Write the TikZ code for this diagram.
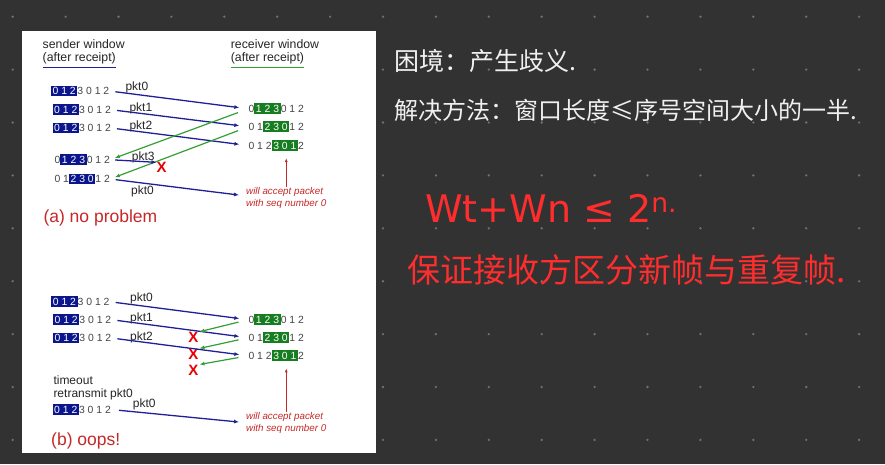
\documentclass[tikz,border=0pt]{standalone}
\usepackage{fontspec}
\setmainfont{Liberation Sans}
\newfontfamily\cjk{Noto Sans CJK SC}
\newfontfamily\hand{DejaVu Sans}
\usetikzlibrary{positioning, arrows.meta}
\definecolor{bgdark}{RGB}{50,50,50}
\definecolor{griddot}{RGB}{112,112,112}
\definecolor{winblue}{RGB}{12,22,140}
\definecolor{wingreen}{RGB}{22,125,32}
\definecolor{pktblue}{RGB}{32,32,150}
\definecolor{ackgreen}{RGB}{52,160,52}
\definecolor{notered}{RGB}{198,40,40}
\definecolor{penred}{RGB}{255,45,45}
\definecolor{digitgray}{RGB}{70,70,70}
\setlength{\fboxsep}{1.7pt}
\newcommand{\winb}[1]{\colorbox{winblue}{\textcolor{white}{#1}}}
\newcommand{\wing}[1]{\colorbox{wingreen}{\textcolor{white}{#1}}}
\tikzset{
  seqrow/.style   = {inner sep=0pt, anchor=west, text=digitgray,
                     font=\fontsize{10.4}{12}\selectfont},
  headtxt/.style  = {inner sep=0pt, anchor=west, text=black!85,
                     text height=9pt, text depth=2.6pt,
                     font=\fontsize{12.3}{13.3}\selectfont},
  pktlabel/.style = {inner sep=0pt, anchor=west, align=left, text=black!85,
                     font=\fontsize{12}{12.3}\selectfont},
  pktarrow/.style = {-{Latex[length=5pt,width=4pt]}, line width=1.3pt,
                     draw=pktblue, shorten <=6pt, shorten >=9pt},
  ackarrow/.style = {-{Latex[length=5pt,width=4pt]}, line width=1.2pt,
                     draw=ackgreen},
  accarrow/.style = {-{Latex[length=4pt,width=3pt]}, line width=0.8pt,
                     draw=notered, shorten >=7pt},
  lostmark/.style = {inner sep=0pt, text=red!92!black,
                     font=\fontsize{15}{15}\selectfont\bfseries},
  notetxt/.style  = {inner sep=0pt, anchor=north west, align=left, text=notered,
                     font=\fontsize{9.8}{12.3}\selectfont\itshape},
  casetxt/.style  = {inner sep=0pt, anchor=west, text=notered,
                     font=\fontsize{17.5}{17.5}\selectfont},
  penwhite/.style = {inner sep=0pt, anchor=west, text=white!94!black},
  penred/.style   = {inner sep=0pt, anchor=west, text=penred}
}
\begin{document}
\begin{tikzpicture}[x=1pt, y=-1pt]
\useasboundingbox (0,0) rectangle (885,464);
\fill[bgdark] (0,0) rectangle (885,464);
\foreach \i in {0,...,16}
  \foreach \j in {0,...,8}
    \fill[griddot] (12.7+52.9*\i, 16.7+52.9*\j) circle (1.3pt);
\fill[white] (21.7,31) rectangle (375.7,452.7);

% headings
\node[headtxt] (sw) at (42.5,45) {sender window};
\node[headtxt, below=1.7pt of sw.south west, anchor=north west] (swa) {(after receipt)};
\node[headtxt] (rw) at (230.7,45) {receiver window};
\node[headtxt, below=1.7pt of rw.south west, anchor=north west] (rwa) {(after receipt)};
\draw[pktblue, line width=1.2pt] ([yshift=-2.5pt]swa.south west) -- ([yshift=-2.5pt]swa.south east);
\draw[ackgreen, line width=1.2pt] ([yshift=-2.5pt]rwa.south west) -- ([yshift=-2.5pt]rwa.south east);

% (a) no problem
\node[seqrow] (as1) at (50.7,91)    {\winb{0 1 2}3 0 1 2};
\node[seqrow] (as2) at (52.3,109.7) {\winb{0 1 2}3 0 1 2};
\node[seqrow] (as3) at (52.3,128)   {\winb{0 1 2}3 0 1 2};
\node[seqrow] (as4) at (54.3,159.7) {0\winb{1 2 3}0 1 2};
\node[seqrow] (as5) at (54.3,179)   {0 1\winb{2 3 0}1 2};
\node[seqrow] (ar1) at (248.3,108.8) {0\wing{1 2 3}0 1 2};
\node[seqrow] (ar2) at (248.3,126.8) {0 1\wing{2 3 0}1 2};
\node[seqrow] (ar3) at (248.3,145.5) {0 1 2\wing{3 0 1}2};
\node[pktlabel] (la0) at (125.3,87.7)  {pkt0};
\node[pktlabel] (la1) at (129.3,108.3) {pkt1};
\node[pktlabel] (la2) at (129.3,126.7) {pkt2};
\node[pktlabel] (la3) at (131.7,157.7) {pkt3};
\node[pktlabel] (la4) at (131,191.7)   {pkt0};
\node[lostmark] (xa) at (161.7,167.7) {X};
\node[notetxt] (acca) at (246,187) {will accept packet\\with seq number 0};
\node[casetxt] (casea) at (43.3,217.7) {(a) no problem};

\draw[pktarrow] (as1.east) -- (ar1.west);
\draw[pktarrow] (as2.east) -- (ar2.west);
\draw[pktarrow] (as3.east) -- (ar3.west);
\draw[ackarrow, shorten <=11pt, shorten >=5pt] (ar1.west) -- (as4.east);
\draw[ackarrow, shorten <=11pt, shorten >=5pt] (ar2.west) -- (as5.east);
\draw[pktarrow, shorten <=5pt, shorten >=0pt] (as4.east) -- (xa.north west);
\draw[pktarrow, shorten <=5.5pt, shorten >=7pt] (as5.east) -- ([yshift=2pt]acca.west);
\draw[accarrow] (acca.north) -- (acca.north |- ar3.south);

% (b) oops
\node[seqrow] (bs1) at (51,301.7)   {\winb{0 1 2}3 0 1 2};
\node[seqrow] (bs2) at (52.7,319.7) {\winb{0 1 2}3 0 1 2};
\node[seqrow] (bs3) at (52.7,338)   {\winb{0 1 2}3 0 1 2};
\node[seqrow] (bs4) at (52.3,409.5) {\winb{0 1 2}3 0 1 2};
\node[seqrow] (br1) at (248.3,319.7) {0\wing{1 2 3}0 1 2};
\node[seqrow] (br2) at (248.3,337.7) {0 1\wing{2 3 0}1 2};
\node[seqrow] (br3) at (248.3,355.8) {0 1 2\wing{3 0 1}2};
\node[pktlabel] (lb0) at (130,298.3)   {pkt0};
\node[pktlabel] (lb1) at (130,318.3)   {pkt1};
\node[pktlabel] (lb2) at (130,337.3)   {pkt2};
\node[pktlabel] (lb4) at (132.7,404)   {pkt0};
\node[pktlabel] (tmo) at (53.3,388) {timeout\\retransmit pkt0};
\node[lostmark] (xb1) at (193.3,337.3) {X};
\node[lostmark] (xb2) at (193.3,354)   {X};
\node[lostmark] (xb3) at (193.3,370)   {X};
\node[notetxt] (accb) at (246,411.8) {will accept packet\\with seq number 0};
\node[casetxt] (caseb) at (51,441) {(b) oops!};

\draw[pktarrow] (bs1.east) -- (br1.west);
\draw[pktarrow] (bs2.east) -- (br2.west);
\draw[pktarrow] (bs3.east) -- (br3.west);
\draw[ackarrow, shorten <=10pt, shorten >=1pt] (br1.west) -- (xb1.north east);
\draw[ackarrow, shorten <=10pt, shorten >=1pt] (br2.west) -- (xb2.north east);
\draw[ackarrow, shorten <=10pt, shorten >=1pt] (br3.west) -- (xb3.north east);
\draw[pktarrow, shorten <=8pt, shorten >=7pt] (bs4.east) -- (accb.west);
\draw[accarrow] (accb.north) -- (accb.north |- br3.south);

% notes on the right
\node[penwhite, font=\cjk\fontsize{25}{25}\selectfont] (trouble) at (394,61) {困境：产生歧义.};
\node[penwhite, font=\cjk\fontsize{24}{24}\selectfont] (fix) at (394,110) {解决方法：窗口长度≤序号空间大小的一半.};
\node[penred, anchor=base west, font=\hand\fontsize{38}{38}\selectfont] (bound) at (425,222) {Wt+Wn ≤ 2\textsuperscript{n.}};
\node[penred, font=\cjk\fontsize{33}{33}\selectfont] (why) at (407,270) {保证接收方区分新帧与重复帧.};
\end{tikzpicture}
\end{document}
